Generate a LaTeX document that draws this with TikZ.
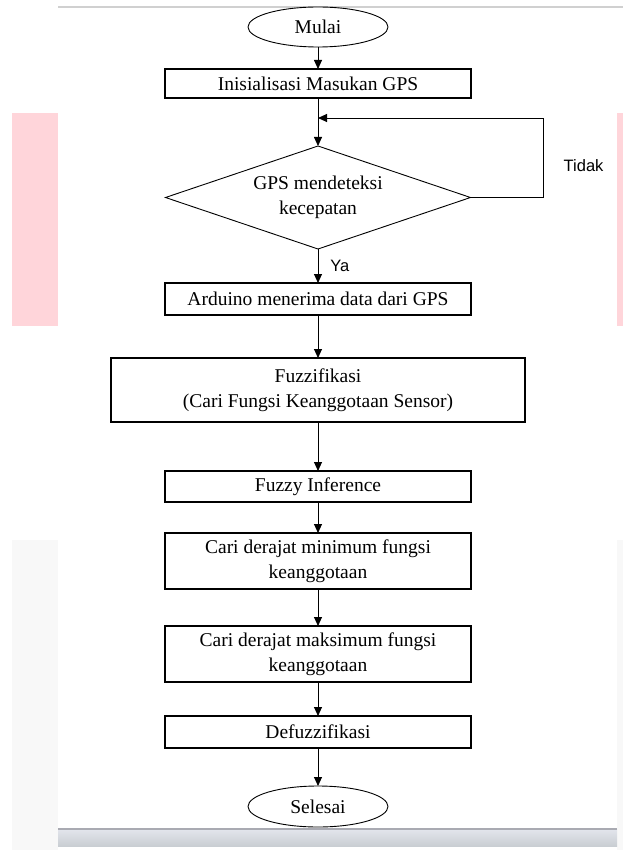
\documentclass[tikz,border=0pt]{standalone}
\usepackage{fontspec}
\setmainfont{Liberation Serif}
\newfontfamily\labelfont{Liberation Sans}
\usepackage{tikz}
\usetikzlibrary{positioning}
\usetikzlibrary{shapes.geometric}
\usetikzlibrary{arrows.meta}
\definecolor{Pink}{HTML}{FFD5DA}
\definecolor{Strip}{HTML}{F8F8F8}
\definecolor{TopLine}{HTML}{D0D0D0}
\definecolor{BarLine}{HTML}{A9AAB2}
\definecolor{BarTop}{HTML}{E3E5EC}
\definecolor{BarBottom}{HTML}{C9CED3}

\begin{document}
\begin{tikzpicture}[x=1pt, y=1pt,
        font=\fontsize{19.5}{25}\selectfont,
        box/.style={draw, rectangle, line width=1.1pt, fill=white, minimum width=306pt, inner sep=0pt, outer sep=0pt, align=center},
        term/.style={draw, ellipse, line width=0.9pt, fill=white, minimum width=140pt, minimum height=40pt, inner sep=0pt, outer sep=0pt},
        decision/.style={draw, diamond, aspect=3, line width=0.9pt, minimum width=305pt, minimum height=103pt, inner sep=0pt, outer sep=0pt, align=center},
        arr/.style={-{Triangle[length=9pt, width=8pt]}, line width=0.9pt},
        lbl/.style={font=\labelfont\fontsize{16.5}{19}\selectfont, inner sep=0pt}]
        \useasboundingbox (0,0) rectangle (623,-850);

        % screen background
        \fill[Pink] (12,-113) rectangle (58,-326);
        \fill[Pink] (617,-113) rectangle (623,-326);
        \fill[Strip] (12,-540) rectangle (58,-850);
        \fill[Strip] (617,-540) rectangle (623,-850);
        \fill[TopLine] (58,-6) rectangle (623,-8.5);
        \shade[top color=BarTop, bottom color=BarBottom] (58,-829) rectangle (617,-846);
        \fill[BarLine] (58,-827.5) rectangle (617,-829.5);

        % steps
        \node[term] (mulai) at (318,-27) {Mulai};
        \node[box, minimum height=29pt, below=22pt of mulai] (init) {Inisialisasi Masukan GPS};
        \node[decision, below=48pt of init] (gps) {GPS mendeteksi\\kecepatan};
        \node[box, minimum height=32pt, below=34pt of gps] (arduino) {Arduino menerima data dari GPS};
        \node[box, minimum width=414pt, minimum height=64pt, below=43pt of arduino] (fuzz) {Fuzzifikasi\\(Cari Fungsi Keanggotaan Sensor)};
        \node[box, minimum height=31pt, below=49pt of fuzz] (infer) {Fuzzy Inference};
        \node[box, minimum height=56pt, below=31pt of infer] (cmin) {Cari derajat minimum fungsi\\keanggotaan};
        \node[box, minimum height=56pt, below=37pt of cmin] (cmax) {Cari derajat maksimum fungsi\\keanggotaan};
        \node[box, minimum height=32pt, below=34pt of cmax] (defuzz) {Defuzzifikasi};
        \node[term, minimum height=41pt, below=38pt of defuzz] (selesai) {Selesai};

        % loop back
        \coordinate[below=20pt of init] (loop);
        \coordinate[right=73pt of gps.east] (corner);
        \node[lbl, right=20pt of corner, yshift=32pt] (tidak) {Tidak};

        % edges
        \draw[arr] (mulai) -- (init);
        \draw[arr] (init) -- (gps);
        \draw[arr] (gps.east) -- (corner) |- (loop);
        \draw[arr] (gps) -- node[lbl, right=12pt, midway] (ya) {Ya} (arduino);
        \draw[arr] (arduino) -- (fuzz);
        \draw[arr] (fuzz) -- (infer);
        \draw[arr] (infer) -- (cmin);
        \draw[arr] (cmin) -- (cmax);
        \draw[arr] (cmax) -- (defuzz);
        \draw[arr] (defuzz) -- (selesai);
    \end{tikzpicture}
\end{document}
